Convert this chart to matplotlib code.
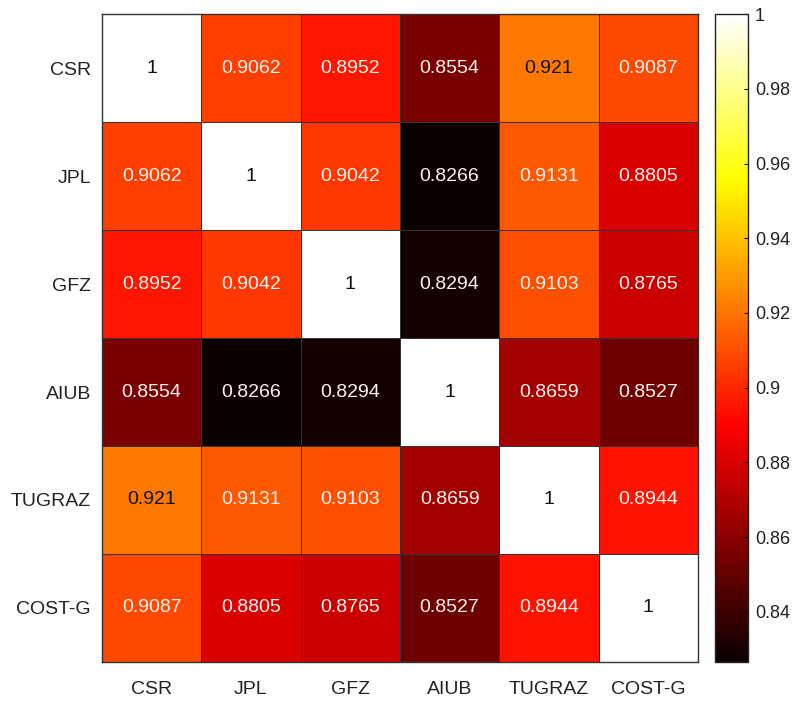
import numpy as np
import matplotlib.pyplot as plt

plt.rcParams['font.family'] = ['Liberation Sans', 'DejaVu Sans']

# etiquetas y matriz de correlación
names = ['CSR', 'JPL', 'GFZ', 'AIUB', 'TUGRAZ', 'COST-G']
corr = np.array([
    [1, 0.9062, 0.8952, 0.8554, 0.921, 0.9087],
    [0.9062, 1, 0.9042, 0.8266, 0.9131, 0.8805],
    [0.8952, 0.9042, 1, 0.8294, 0.9103, 0.8765],
    [0.8554, 0.8266, 0.8294, 1, 0.8659, 0.8527],
    [0.921, 0.9131, 0.9103, 0.8659, 1, 0.8944],
    [0.9087, 0.8805, 0.8765, 0.8527, 0.8944, 1],
])
cbar_ticks = [0.84, 0.86, 0.88, 0.9, 0.92, 0.94, 0.96, 0.98, 1]

fig = plt.figure(figsize=(7.93, 7.04), dpi=100)
ax = fig.add_axes([0.1286, 0.0597, 0.7514, 0.9203])
cax = fig.add_axes([0.9016, 0.0597, 0.0417, 0.9203])

vmin, vmax = corr.min(), corr.max()
im = ax.pcolormesh(corr, cmap='hot', vmin=vmin, vmax=vmax,
                   edgecolor='#333333', linewidth=0.6)
ax.set_xlim(0, 6)
ax.set_ylim(6, 0)

n = len(names)
for i in range(n):
    for j in range(n):
        v = corr[i, j]
        txt = '1' if v == 1 else ('%.4f' % v).rstrip('0')
        t = (v - vmin) / (vmax - vmin)
        color = '#111111' if t > 0.52 else '#fff4f0'
        ax.text(j + 0.5, i + 0.5, txt, ha='center', va='center',
                fontsize=14, color=color)

ax.set_xticks(np.arange(n) + 0.5)
ax.set_yticks(np.arange(n) + 0.5)
ax.set_xticklabels(names, fontsize=14, color='#222222')
ax.set_yticklabels(names, fontsize=14, color='#222222')
ax.tick_params(axis='y', length=0, pad=8)
ax.tick_params(axis='x', length=0, pad=14)
for s in ax.spines.values():
    s.set_color('#333333')
    s.set_linewidth(1.0)

cb = fig.colorbar(im, cax=cax)
cb.set_ticks(cbar_ticks)
cb.set_ticklabels(['0.84', '0.86', '0.88', '0.9', '0.92', '0.94', '0.96', '0.98', '1'])
cax.tick_params(direction='in', length=3, labelsize=13, labelcolor='#222222', pad=5)
cb.outline.set_edgecolor('#222222')
cb.outline.set_linewidth(1.0)

fig.savefig('out.png', dpi=100)
